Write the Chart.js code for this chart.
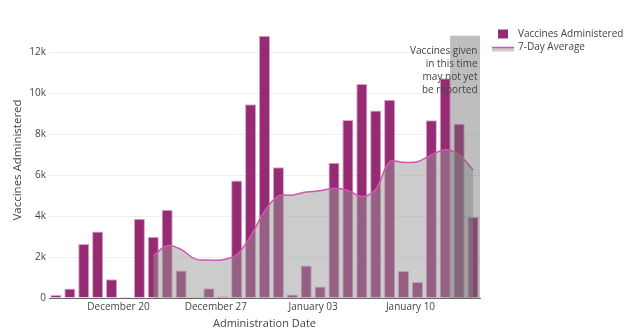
<!DOCTYPE html>
<html>
<head>
<meta charset="utf-8">
<title>Vaccines Administered</title>
<script src="https://cdn.jsdelivr.net/npm/chart.js@4.4.1/dist/chart.umd.min.js"></script>
<style>
  html, body { margin: 0; padding: 0; background: #fff; }
  #wrap { width: 628px; height: 334px; }
</style>
</head>
<body>
<div id="wrap"><canvas id="vaccineChart" width="628" height="334"></canvas></div>
<script>
// one entry per day, Dec 15 -> Jan 14
var dates = ['Dec 15', 'Dec 16', 'Dec 17', 'Dec 18', 'Dec 19', 'Dec 20', 'Dec 21', 'Dec 22',
             'Dec 23', 'Dec 24', 'Dec 25', 'Dec 26', 'Dec 27', 'Dec 28', 'Dec 29', 'Dec 30',
             'Dec 31', 'Jan 01', 'Jan 02', 'Jan 03', 'Jan 04', 'Jan 05', 'Jan 06', 'Jan 07',
             'Jan 08', 'Jan 09', 'Jan 10', 'Jan 11', 'Jan 12', 'Jan 13', 'Jan 14'];

var administered = [150, 460, 2640, 3250, 920, 50, 3870, 2990, 4310, 1340, 40, 480, 80,
                    5730, 9460, 12800, 6380, 170, 1590, 560, 6600, 8690, 10450, 9150, 9670,
                    1320, 780, 8680, 10730, 8510, 3950];

var sevenDayAvg = [null, null, null, null, null, null, null, 2050, 2560, 2370, 1910, 1850,
                   1870, 2110, 3020, 4230, 4980, 5020, 5170, 5230, 5360, 5250, 4950, 5310,
                   6650, 6620, 6650, 6980, 7240, 6990, 6250];

var tickDates = ['Dec 20', 'Dec 27', 'Jan 03', 'Jan 10'];
var tickLabels = ['December 20', 'December 27', 'January 03', 'January 10'];
var yTicks = [0, 2000, 4000, 6000, 8000, 10000, 12000];
var yMax = 13470;

var pendingFrom = 28.85;   // days after Dec 15 where reports may still be missing
var noteLines = ['Vaccines given', 'in this time', 'may not yet', 'be reported'];

var barColor = '#952b73';
var barEdge = '#dba6ca';
var avgColor = '#d255b2';
var avgFill = 'rgba(150,150,150,0.49)';
var textColor = '#444';

Chart.defaults.font.family = '"Open Sans", sans-serif';
Chart.defaults.color = textColor;

var ctx = document.getElementById('vaccineChart').getContext('2d');

// bars sit in the middle of each day, ticks at the start of the day
var barPoints = administered.map(function (v, i) { return { x: i + 0.5, y: v }; });
var avgPoints = [];
sevenDayAvg.forEach(function (v, i) {
    if (v !== null) avgPoints.push({ x: i + 0.5, y: v });
});
var tickPos = tickDates.map(function (d) { return dates.indexOf(d); });

var pendingShade = {
    id: 'pendingShade',
    afterDatasetsDraw: function (chart) {
        var xs = chart.scales.x, ys = chart.scales.y, c = chart.ctx;
        var left = xs.getPixelForValue(pendingFrom);
        var right = xs.getPixelForValue(dates.length);
        var top = ys.getPixelForValue(Math.max.apply(null, administered));
        var bottom = ys.getPixelForValue(0);
        c.save();
        c.fillStyle = 'rgba(110,110,110,0.45)';
        c.fillRect(left, top, right - left, bottom - top);
        c.fillStyle = textColor;
        c.font = '10px "Open Sans", sans-serif';
        c.textAlign = 'right';
        c.textBaseline = 'middle';
        noteLines.forEach(function (t, i) {
            c.fillText(t, right - 2.5, top + 15 + i * 13.2);
        });
        c.restore();
    }
};

// plotly-style legend on the right
var sideLegend = {
    id: 'sideLegend',
    afterDraw: function (chart) {
        var c = chart.ctx, x0 = chart.chartArea.right;
        c.save();
        c.fillStyle = barColor;
        c.fillRect(x0 + 18, 29.5, 10, 9);
        c.fillStyle = avgFill;
        c.fillRect(x0 + 12, 47.5, 22, 4);
        c.strokeStyle = avgColor;
        c.lineWidth = 1.5;
        c.beginPath();
        c.moveTo(x0 + 12, 47.5);
        c.lineTo(x0 + 34, 47.5);
        c.stroke();
        c.fillStyle = textColor;
        c.font = '10px "Open Sans", sans-serif';
        c.textBaseline = 'middle';
        c.fillText('Vaccines Administered', x0 + 38, 34);
        c.fillText('7-Day Average', x0 + 38, 47.5);
        c.restore();
    }
};

var vaccineChart = new Chart(ctx, {
    type: 'bar',
    data: {
        datasets: [
            {
                type: 'bar',
                label: 'Vaccines Administered',
                data: barPoints,
                backgroundColor: barColor,
                borderColor: barEdge,
                borderWidth: 1,
                barPercentage: 0.8,
                categoryPercentage: 1,
                order: 1
            },
            {
                type: 'line',
                label: '7-Day Average',
                data: avgPoints,
                borderColor: avgColor,
                borderWidth: 1.5,
                backgroundColor: avgFill,
                fill: 'origin',
                pointRadius: 0,
                tension: 0.35,
                order: 0
            }
        ]
    },
    options: {
        responsive: false,
        animation: false,
        layout: { padding: { left: 4, right: 148, top: 22, bottom: 0 } },
        plugins: {
            legend: { display: false },
            tooltip: { mode: 'x', intersect: false }
        },
        scales: {
            x: {
                type: 'linear',
                min: 0,
                max: dates.length,
                offset: false,
                grid: { display: false, drawTicks: false, offset: false },
                border: { display: true, color: '#666' },
                afterBuildTicks: function (axis) {
                    axis.ticks = tickPos.map(function (p) { return { value: p }; });
                },
                ticks: {
                    autoSkip: false,
                    maxRotation: 0,
                    padding: 3,
                    font: { size: 10 },
                    callback: function (v) { return tickLabels[tickPos.indexOf(v)]; }
                },
                title: {
                    display: true,
                    text: 'Administration Date',
                    font: { size: 11 },
                    padding: { top: 0, bottom: 4 }
                },
                afterFit: function (axis) { axis.height = 36; }
            },
            y: {
                min: 0,
                max: yMax,
                grid: { color: '#eeeeee', drawTicks: false },
                border: { display: false },
                afterBuildTicks: function (axis) {
                    axis.ticks = yTicks.map(function (v) { return { value: v }; });
                },
                ticks: {
                    padding: 3,
                    font: { size: 10 },
                    callback: function (v) { return v === 0 ? '0' : (v / 1000) + 'k'; }
                },
                title: {
                    display: true,
                    text: 'Vaccines Administered',
                    font: { size: 11.5 },
                    padding: { top: 7, bottom: 0 }
                },
                afterFit: function (axis) { axis.width = 45; }
            }
        }
    },
    plugins: [pendingShade, sideLegend]
});
</script>
</body>
</html>
